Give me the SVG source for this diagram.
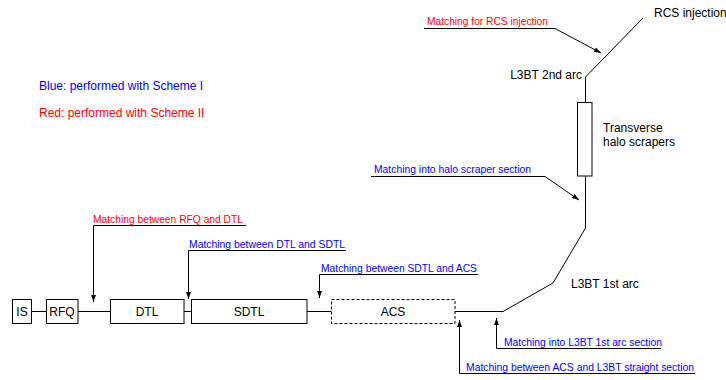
<svg xmlns="http://www.w3.org/2000/svg" width="726" height="380" viewBox="0 0 726 380">
<style>
text{font-family:"Liberation Sans",Arial,sans-serif;}
.lbl{font-size:12px;fill:#000;}
.m{font-size:10.5px;}
.blue{fill:#0000ff;}
.red{fill:#ff0000;}
.box{fill:#fff;stroke:#000;stroke-width:1;}
.dash{fill:#fff;stroke:#000;stroke-width:1;stroke-dasharray:3,2;}
.ln{fill:none;stroke:#000;stroke-width:1;}
.ar{fill:none;stroke:#000;stroke-width:1;marker-end:url(#ah);}
</style>
<defs>
<marker id="ah" viewBox="0 0 10 10" refX="10" refY="5" markerWidth="7" markerHeight="7" markerUnits="userSpaceOnUse" orient="auto">
<path d="M0,1.5 L10,5 L0,8.5 Z" fill="#000"/>
</marker>
</defs>
<rect width="726" height="380" fill="#fff"/>

<g id="connectors">
<path class="ln" d="M31.5,311.5 H46 M78,311.5 H110 M184,311.5 H191 M307,311.5 H331 M455,311.5 H503 L553,283 L585.5,228 V176"/>
<path class="ln" d="M585.5,102 V77 L643,18"/>
<path class="ar" d="M424,28.5 H555 L601,53"/>
<path class="ar" d="M371,176.5 H545 L579,200"/>
<path class="ar" d="M246,225.5 H93.5 V302"/>
<path class="ar" d="M346,250.5 H188.5 V299"/>
<path class="ar" d="M478,274.5 H319.5 V298"/>
<path class="ar" d="M661,348.5 H496.5 V318"/>
<path class="ar" d="M695,373.5 H459.5 V320"/>
</g>

<g id="node-IS"><rect class="box" x="12.5" y="299.5" width="19" height="24"/><text class="lbl" x="22" y="316" text-anchor="middle">IS</text></g>
<g id="node-RFQ"><rect class="box" x="46.5" y="299.5" width="31.5" height="24"/><text class="lbl" x="62" y="316" text-anchor="middle">RFQ</text></g>
<g id="node-DTL"><rect class="box" x="110.5" y="299.5" width="73.5" height="24"/><text class="lbl" x="147" y="316" text-anchor="middle">DTL</text></g>
<g id="node-SDTL"><rect class="box" x="191.5" y="299.5" width="115.5" height="24"/><text class="lbl" x="249" y="316" text-anchor="middle">SDTL</text></g>
<g id="node-ACS"><rect class="dash" x="331.5" y="299.5" width="123.5" height="24"/><text class="lbl" x="393" y="316" text-anchor="middle">ACS</text></g>
<g id="node-scrapers"><rect class="box" x="577.5" y="102.5" width="14.5" height="73.5"/><text class="lbl" x="603" y="131.5">Transverse</text><text class="lbl" x="603" y="145.5">halo scrapers</text></g>
<g id="node-RCS"><text class="lbl" x="654" y="17">RCS injection</text></g>
<g id="node-arc2"><text class="lbl" x="582" y="79" text-anchor="end">L3BT 2nd arc</text></g>
<g id="node-arc1"><text class="lbl" x="571" y="288">L3BT 1st arc</text></g>

<g id="legend">
<text class="lbl blue" x="39" y="90" style="fill:#0000ff">Blue: performed with Scheme I</text>
<text class="lbl red" x="39" y="117" style="fill:#ff0000">Red: performed with Scheme II</text>
</g>

<g id="labels">
<text class="m red" x="427" y="25" textLength="121" lengthAdjust="spacingAndGlyphs">Matching for RCS injection</text>
<text class="m blue" x="374" y="173" textLength="157" lengthAdjust="spacingAndGlyphs">Matching into halo scraper section</text>
<text class="m red" x="93" y="222.5" textLength="150" lengthAdjust="spacingAndGlyphs">Matching between RFQ and DTL</text>
<text class="m blue" x="189" y="247.5" textLength="156" lengthAdjust="spacingAndGlyphs">Matching between DTL and SDTL</text>
<text class="m blue" x="321" y="271.5" textLength="156" lengthAdjust="spacingAndGlyphs">Matching between SDTL and ACS</text>
<text class="m blue" x="504" y="345.5" textLength="158" lengthAdjust="spacingAndGlyphs">Matching into L3BT 1st arc section</text>
<text class="m blue" x="466" y="370.5" textLength="228" lengthAdjust="spacingAndGlyphs">Matching between ACS and L3BT straight section</text>
</g>
</svg>
